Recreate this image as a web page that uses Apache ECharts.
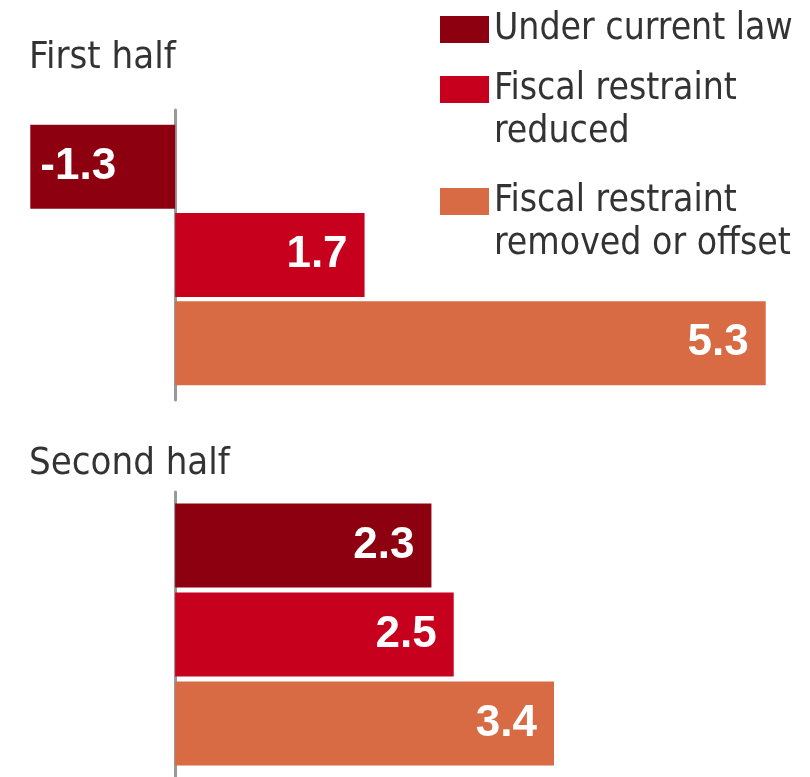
<!DOCTYPE html>
<html>
<head>
<meta charset="utf-8">
<script src="https://cdn.jsdelivr.net/npm/echarts@6/dist/echarts.min.js"></script>
<style>
  html, body { margin: 0; padding: 0; background: #fff; }
  #main { width: 810px; height: 777px; }
</style>
</head>
<body>
<div id="main"></div>
<script>
const periods = ['First half', 'Second half']
const scenarios = ['Under current law', 'Fiscal restraint\nreduced', 'Fiscal restraint\nremoved or offset']
const firstHalf = [-1.3, 1.7, 5.3]
const secondHalf = [2.3, 2.5, 3.4]
const colors = ['#8C000F', '#C7001E', '#D86B43']

const narrow = "'Liberation Sans Narrow', 'DejaVu Sans Condensed', sans-serif"
const values = [firstHalf, secondHalf]

const chart = echarts.init(document.getElementById('main'))

const grids = [
  { left: 8, width: 780, top: 110, height: 290 },
  { left: 8, width: 780, top: 492, height: 288 }
]

const series = []
values.forEach((vals, p) => {
  vals.forEach((v, s) => {
    series.push({
      type: 'bar',
      name: scenarios[s],
      xAxisIndex: p,
      yAxisIndex: p,
      barWidth: 84,
      barGap: p === 0 ? '5%' : '6%',
      itemStyle: { color: colors[s] },
      label: {
        show: true,
        position: v < 0 ? 'insideLeft' : 'insideRight',
        distance: v < 0 ? 10 : 17,
        color: '#fff',
        fontFamily: "'Liberation Sans', Arial, sans-serif",
        fontWeight: 'bold',
        fontSize: 44
      },
      data: [v]
    })
  })
})

const legendTops = [8, 25, 137]
const legends = scenarios.map((name, i) => ({
  data: [name],
  orient: 'vertical',
  left: 440,
  top: legendTops[i],
  padding: 0,
  icon: 'rect',
  itemWidth: 49,
  itemHeight: 27,
  selectedMode: false,
  formatter: (n) => (n.indexOf('\n') >= 0 ? '\n' + n : n),
  textStyle: {
    fontFamily: narrow,
    fontSize: 37,
    lineHeight: 43,
    color: '#333'
  }
}))

const option = {
  animation: false,
  title: [
    { text: periods[0], left: 29, top: 39 },
    { text: periods[1], left: 29, top: 445 }
  ].map((t) => ({
    ...t,
    padding: 0,
    textStyle: { fontFamily: narrow, fontSize: 38, fontWeight: 'normal', color: '#333' }
  })),
  legend: legends,
  grid: grids,
  xAxis: grids.map((g, i) => ({
    gridIndex: i,
    type: 'value',
    min: -1.5,
    max: 5.5,
    axisLine: { show: false },
    axisTick: { show: false },
    axisLabel: { show: false },
    splitLine: { show: false }
  })),
  yAxis: grids.map((g, i) => ({
    gridIndex: i,
    type: 'category',
    inverse: true,
    data: [periods[i]],
    axisLine: { show: true, onZero: true, lineStyle: { color: '#999', width: 3 } },
    axisTick: { show: false },
    axisLabel: { show: false }
  })),
  series: series
}
chart.setOption(option)
</script>
</body>
</html>
